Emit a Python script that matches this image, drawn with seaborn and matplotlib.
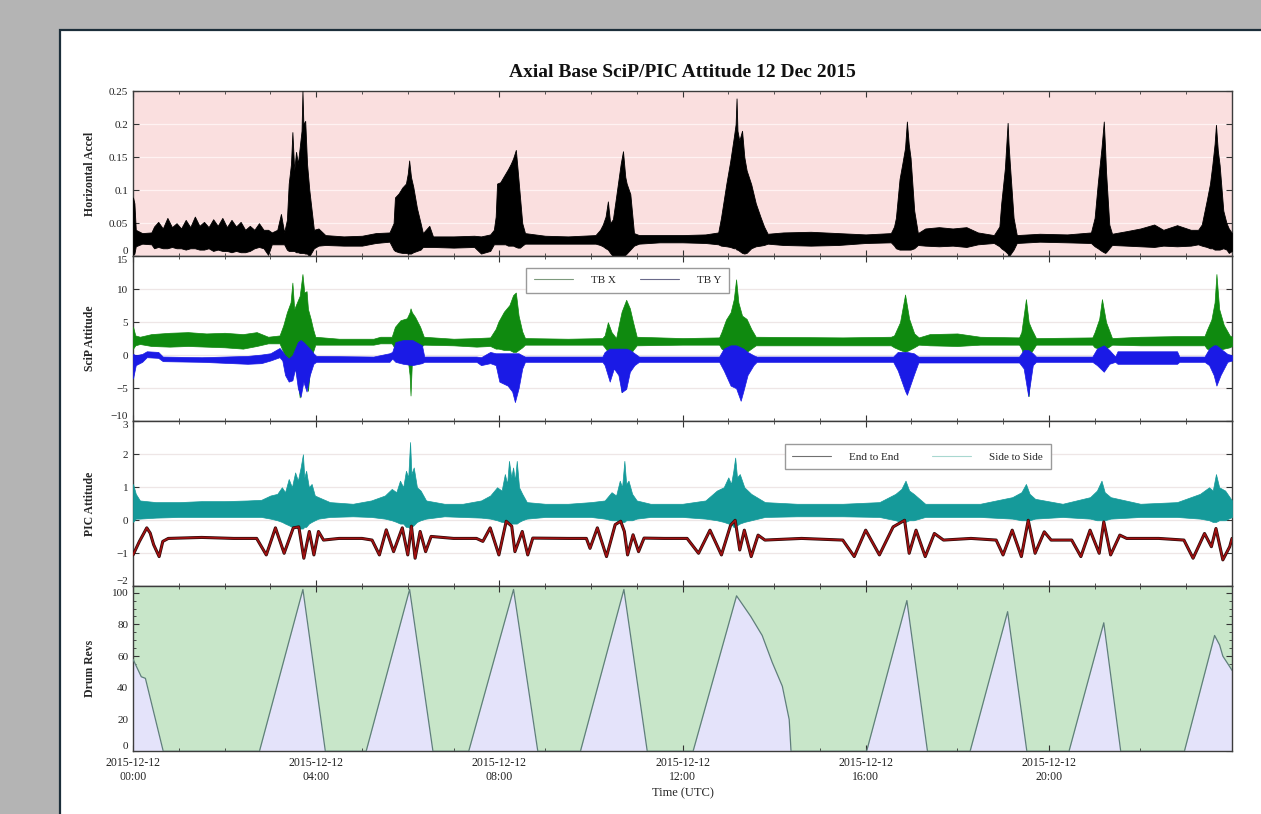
import matplotlib
matplotlib.use("Agg")
import matplotlib.pyplot as plt
import matplotlib.dates as mdates
from matplotlib.lines import Line2D
from matplotlib.patches import Rectangle
from matplotlib.ticker import AutoMinorLocator
import numpy as np
import pandas as pd
import seaborn as sns

DAY = pd.Timestamp("2015-12-12")

# ── Data (hours since 00:00 UTC) ─────────────────────────────────────────────

# Horizontal accel envelope: (hour, low, high)
accel_pts = [
    (0.00, 0.002, 0.089), (0.03, 0.004, 0.080), (0.06, 0.015, 0.040), (0.20, 0.019, 0.035),
    (0.40, 0.018, 0.036), (0.46, 0.012, 0.045), (0.55, 0.014, 0.052), (0.65, 0.012, 0.042),
    (0.75, 0.012, 0.058), (0.85, 0.014, 0.044), (0.95, 0.012, 0.050), (1.05, 0.012, 0.042),
    (1.15, 0.010, 0.055), (1.25, 0.012, 0.044), (1.35, 0.012, 0.060), (1.45, 0.010, 0.046),
    (1.55, 0.010, 0.052), (1.65, 0.012, 0.044), (1.75, 0.008, 0.056), (1.85, 0.010, 0.046),
    (1.95, 0.008, 0.058), (2.05, 0.008, 0.044), (2.15, 0.006, 0.055), (2.25, 0.008, 0.045),
    (2.35, 0.006, 0.052), (2.45, 0.006, 0.040), (2.55, 0.008, 0.046), (2.65, 0.012, 0.040),
    (2.75, 0.014, 0.050), (2.85, 0.012, 0.040), (2.95, 0.002, 0.040),
    (3.03, 0.018, 0.036), (3.15, 0.018, 0.040), (3.23, 0.018, 0.064), (3.30, 0.018, 0.036),
    (3.36, 0.010, 0.055), (3.40, 0.008, 0.110), (3.45, 0.008, 0.140), (3.48, 0.008, 0.188),
    (3.52, 0.008, 0.130), (3.56, 0.006, 0.158), (3.60, 0.006, 0.140), (3.64, 0.005, 0.165),
    (3.68, 0.005, 0.190), (3.70, 0.005, 0.250), (3.72, 0.005, 0.200), (3.76, 0.004, 0.205),
    (3.80, 0.004, 0.140), (3.85, 0.000, 0.100), (3.90, 0.006, 0.070), (3.95, 0.012, 0.040),
    (4.05, 0.016, 0.042), (4.20, 0.017, 0.032), (4.60, 0.016, 0.030), (5.00, 0.016, 0.031),
    (5.30, 0.020, 0.035), (5.60, 0.022, 0.036),
    (5.69, 0.010, 0.050), (5.72, 0.008, 0.089), (5.80, 0.006, 0.095), (5.88, 0.005, 0.104),
    (5.96, 0.005, 0.110), (6.00, 0.004, 0.125), (6.03, 0.004, 0.145), (6.07, 0.004, 0.120),
    (6.12, 0.006, 0.105), (6.20, 0.008, 0.073), (6.28, 0.010, 0.050), (6.33, 0.014, 0.035),
    (6.47, 0.014, 0.046), (6.55, 0.014, 0.030), (7.00, 0.013, 0.030), (7.45, 0.014, 0.031),
    (7.60, 0.004, 0.030), (7.80, 0.008, 0.033), (7.88, 0.018, 0.040),
    (7.92, 0.018, 0.060), (7.95, 0.018, 0.110), (8.02, 0.018, 0.112), (8.07, 0.018, 0.118),
    (8.13, 0.018, 0.125), (8.19, 0.016, 0.132), (8.25, 0.016, 0.140), (8.30, 0.016, 0.148),
    (8.36, 0.014, 0.161), (8.40, 0.013, 0.130), (8.45, 0.013, 0.090), (8.50, 0.016, 0.050),
    (8.56, 0.019, 0.035), (9.00, 0.019, 0.031), (9.50, 0.019, 0.030), (10.10, 0.019, 0.032),
    (10.20, 0.017, 0.040), (10.26, 0.015, 0.048), (10.32, 0.012, 0.060), (10.37, 0.010, 0.083),
    (10.42, 0.005, 0.050), (10.48, 0.000, 0.056), (10.55, 0.000, 0.090), (10.59, 0.000, 0.110),
    (10.65, 0.000, 0.140), (10.70, 0.000, 0.159), (10.75, 0.002, 0.120), (10.78, 0.004, 0.110),
    (10.86, 0.010, 0.094), (10.94, 0.016, 0.035), (11.05, 0.019, 0.032), (11.50, 0.021, 0.032),
    (12.00, 0.021, 0.032), (12.50, 0.020, 0.033), (12.78, 0.018, 0.036),
    (12.84, 0.016, 0.058), (12.96, 0.015, 0.111), (13.04, 0.014, 0.143), (13.12, 0.012, 0.180),
    (13.16, 0.012, 0.200), (13.18, 0.010, 0.239), (13.20, 0.010, 0.190), (13.24, 0.008, 0.175),
    (13.30, 0.005, 0.190), (13.35, 0.004, 0.150), (13.40, 0.005, 0.130), (13.50, 0.012, 0.109),
    (13.60, 0.015, 0.080), (13.70, 0.016, 0.060), (13.78, 0.017, 0.045), (13.86, 0.019, 0.034),
    (14.20, 0.017, 0.036), (14.80, 0.016, 0.037), (15.40, 0.017, 0.035), (16.00, 0.020, 0.033),
    (16.55, 0.021, 0.035),
    (16.62, 0.016, 0.045), (16.66, 0.012, 0.058), (16.74, 0.010, 0.117), (16.80, 0.010, 0.140),
    (16.86, 0.010, 0.164), (16.90, 0.010, 0.204), (16.94, 0.010, 0.170), (16.98, 0.010, 0.149),
    (17.06, 0.012, 0.069), (17.14, 0.017, 0.035), (17.30, 0.016, 0.042), (17.60, 0.015, 0.044),
    (17.90, 0.016, 0.042), (18.20, 0.014, 0.044), (18.45, 0.018, 0.036), (18.80, 0.020, 0.032),
    (18.92, 0.015, 0.045), (18.96, 0.012, 0.080), (19.04, 0.008, 0.133), (19.10, 0.004, 0.202),
    (19.12, 0.000, 0.170), (19.15, 0.002, 0.138), (19.23, 0.010, 0.058), (19.30, 0.020, 0.032),
    (19.80, 0.022, 0.034), (20.40, 0.021, 0.033), (20.92, 0.020, 0.036),
    (21.00, 0.015, 0.058), (21.07, 0.012, 0.111), (21.15, 0.008, 0.164), (21.20, 0.006, 0.204),
    (21.23, 0.005, 0.160), (21.25, 0.006, 0.127), (21.32, 0.012, 0.048), (21.38, 0.017, 0.034),
    (21.70, 0.016, 0.038), (22.00, 0.015, 0.042), (22.30, 0.014, 0.048), (22.50, 0.016, 0.040),
    (22.80, 0.015, 0.047), (23.10, 0.016, 0.040), (23.26, 0.018, 0.040),
    (23.34, 0.016, 0.048), (23.45, 0.014, 0.085), (23.52, 0.012, 0.110), (23.57, 0.012, 0.138),
    (23.62, 0.010, 0.170), (23.65, 0.010, 0.199), (23.69, 0.010, 0.160), (23.73, 0.010, 0.138),
    (23.81, 0.012, 0.069), (23.88, 0.010, 0.050), (23.93, 0.005, 0.042), (24.00, 0.008, 0.035),
]

# SciP tilt, TB X (green) envelope
tbx_pts = [
    (0.00, 1.0, 4.3), (0.05, 1.5, 3.0), (0.15, 1.7, 2.8), (0.40, 1.4, 3.2), (0.80, 1.3, 3.4),
    (1.20, 1.4, 3.5), (1.60, 1.3, 3.3), (2.00, 1.2, 3.4), (2.40, 1.0, 3.2), (2.70, 1.4, 3.5),
    (2.95, 1.8, 2.8), (3.20, 1.8, 3.0), (3.28, 0.5, 4.5), (3.36, -1.0, 6.5), (3.44, -1.5, 8.0),
    (3.48, -2.0, 11.0), (3.52, -1.5, 7.0), (3.58, -3.0, 8.0), (3.64, -6.4, 9.0), (3.70, -4.0, 12.3),
    (3.74, -3.0, 9.5), (3.79, -3.0, 9.7), (3.82, -5.4, 7.0), (3.88, -1.0, 5.5), (3.93, 0.5, 4.0),
    (3.98, 1.6, 2.8), (4.50, 1.6, 2.5), (5.25, 1.6, 2.5), (5.40, 1.8, 2.8), (5.65, 1.8, 2.8),
    (5.72, 1.0, 4.3), (5.84, 0.8, 5.3), (5.98, 0.5, 5.6), (6.04, -3.0, 6.5), (6.06, -6.1, 7.1),
    (6.09, -1.0, 6.5), (6.16, 0.8, 5.8), (6.27, 1.2, 4.3), (6.35, 1.6, 2.8), (7.00, 1.5, 2.5),
    (7.50, 1.3, 2.6), (7.80, 1.4, 2.7), (7.92, 1.0, 4.0), (7.98, 1.0, 5.1), (8.10, 0.8, 6.6),
    (8.22, 0.8, 7.6), (8.30, 0.5, 9.1), (8.36, 0.5, 9.5), (8.42, 0.8, 6.0), (8.50, 1.2, 3.6),
    (8.56, 1.6, 2.6), (9.50, 1.6, 2.5), (10.25, 1.6, 2.6), (10.30, 1.2, 3.0), (10.37, 0.5, 5.0),
    (10.45, 0.0, 3.5), (10.55, -1.0, 2.6), (10.62, -2.0, 5.0), (10.67, -5.6, 6.6), (10.72, -2.0, 7.5),
    (10.77, -1.0, 8.4), (10.85, 0.0, 7.1), (10.92, 0.8, 5.0), (11.00, 1.5, 2.8), (12.00, 1.6, 2.6),
    (12.80, 1.6, 2.7), (12.85, 1.0, 3.5), (12.95, 0.5, 5.4), (13.05, 0.0, 6.5), (13.12, -1.0, 8.5),
    (13.17, -2.0, 11.5), (13.22, -1.0, 8.0), (13.30, 0.0, 6.0), (13.40, 0.5, 5.5), (13.50, 1.0, 4.0),
    (13.60, 1.5, 2.8), (15.50, 1.5, 2.7), (16.55, 1.5, 2.8), (16.62, 1.2, 3.0), (16.75, 0.8, 5.0),
    (16.86, 0.5, 9.2), (16.95, 0.8, 5.5), (17.06, 1.2, 3.3), (17.16, 1.6, 2.7), (17.40, 1.5, 3.2),
    (18.00, 1.4, 3.3), (18.50, 1.6, 2.8), (19.35, 1.6, 2.7), (19.40, 1.0, 3.5), (19.50, -1.0, 8.5),
    (19.56, -6.2, 5.0), (19.62, 0.5, 4.0), (19.72, 1.6, 2.6), (20.95, 1.6, 2.7), (21.00, 1.2, 3.5),
    (21.10, 1.0, 5.5), (21.16, 0.8, 8.5), (21.25, 1.0, 5.0), (21.38, 1.6, 2.6), (22.00, 1.5, 2.8),
    (22.80, 1.5, 2.9), (23.40, 1.5, 2.9), (23.45, 1.0, 3.8), (23.55, 0.8, 5.4), (23.62, 0.5, 8.0),
    (23.66, 0.5, 12.3), (23.72, 0.8, 7.0), (23.82, 1.0, 4.6), (23.95, 1.2, 3.0), (24.00, 1.4, 2.8),
]

# SciP tilt, TB Y (blue) envelope
tby_pts = [
    (0.00, -3.5, 0.2), (0.06, -1.5, 0.0), (0.20, -1.0, 0.2), (0.30, -0.3, 0.6), (0.55, -0.4, 0.5),
    (0.65, -0.9, -0.2), (1.50, -1.0, -0.3), (2.50, -1.3, -0.1), (2.80, -1.2, 0.1), (3.00, -0.8, 0.3),
    (3.20, -0.3, 1.1), (3.26, -0.8, 0.6), (3.32, -3.0, 0.0), (3.40, -4.0, -0.5), (3.48, -3.8, 0.0),
    (3.54, -2.0, 1.0), (3.60, -5.0, 2.0), (3.66, -6.3, 2.3), (3.72, -4.0, 2.0), (3.79, -5.5, 1.5),
    (3.86, -3.0, 1.0), (3.94, -1.3, 0.3), (4.00, -1.0, -0.1), (5.25, -1.0, -0.2), (5.60, -1.0, 0.3),
    (5.66, -0.5, 0.5), (5.73, -1.0, 2.0), (5.90, -1.3, 2.3), (6.10, -1.5, 2.3), (6.31, -1.2, 1.5),
    (6.36, -1.0, -0.2), (7.50, -1.0, -0.2), (7.60, -1.5, -0.3), (7.80, -1.2, 0.5), (7.92, -1.5, 0.3),
    (8.00, -4.0, 0.3), (8.18, -4.6, 0.3), (8.28, -5.5, 0.3), (8.34, -7.1, 0.3), (8.42, -5.0, 0.3),
    (8.50, -2.0, 0.0), (8.56, -1.0, -0.2), (10.25, -1.0, -0.2), (10.30, -1.5, 0.5), (10.41, -4.0, 1.0),
    (10.50, -2.0, 1.0), (10.60, -3.0, 1.0), (10.67, -5.6, 1.0), (10.77, -5.1, 1.0), (10.85, -2.5, 0.8),
    (10.95, -1.5, 0.3), (11.05, -1.0, -0.2), (12.80, -1.0, -0.2), (12.90, -2.3, 1.0), (13.05, -4.6, 1.5),
    (13.17, -5.0, 1.5), (13.27, -6.9, 1.2), (13.33, -5.4, 1.0), (13.42, -3.0, 0.5), (13.55, -1.5, 0.0),
    (13.62, -1.0, -0.2), (16.60, -1.0, -0.2), (16.70, -2.3, 0.5), (16.86, -5.4, 0.5), (16.90, -6.0, 0.5),
    (17.05, -3.0, 0.3), (17.15, -1.1, -0.2), (19.35, -1.1, -0.2), (19.45, -2.0, 0.8), (19.55, -6.2, 0.8),
    (19.65, -1.5, 0.3), (19.72, -1.0, -0.2), (20.95, -1.0, -0.2), (21.05, -1.5, 1.0), (21.20, -2.5, 1.5),
    (21.32, -1.3, 0.8), (21.45, -1.0, -0.2), (21.50, -1.3, 0.6), (22.80, -1.3, 0.6), (22.85, -1.0, -0.2),
    (23.40, -1.0, -0.2), (23.50, -1.5, 1.0), (23.60, -3.0, 1.5), (23.66, -4.6, 1.5), (23.75, -3.0, 1.0),
    (23.90, -1.0, 0.2), (24.00, -0.8, 0.0),
]

# PIC side-to-side (teal) envelope
side_pts = [
    (0.00, -0.05, 1.1), (0.06, 0.05, 0.8), (0.15, 0.05, 0.6), (0.50, 0.08, 0.55), (1.00, 0.10, 0.55),
    (1.50, 0.10, 0.58), (2.00, 0.10, 0.58), (2.50, 0.10, 0.60), (2.80, 0.10, 0.62), (3.00, 0.05, 0.75),
    (3.15, 0.00, 0.80), (3.25, -0.05, 1.00), (3.32, -0.10, 0.85), (3.40, -0.15, 1.25), (3.47, -0.20, 1.00),
    (3.54, -0.20, 1.45), (3.60, -0.25, 1.20), (3.66, -0.25, 1.60), (3.71, -0.25, 2.00), (3.74, -0.20, 1.30),
    (3.78, -0.20, 1.50), (3.84, -0.10, 1.00), (3.90, -0.05, 1.10), (3.97, 0.00, 0.75), (4.05, 0.05, 0.70),
    (4.30, 0.10, 0.55), (4.80, 0.12, 0.50), (5.20, 0.10, 0.60), (5.50, 0.05, 0.75), (5.65, 0.00, 0.95),
    (5.75, -0.05, 0.85), (5.83, -0.10, 1.20), (5.90, -0.10, 1.00), (5.96, -0.20, 1.50), (6.01, -0.20, 1.30),
    (6.05, -0.25, 2.37), (6.08, -0.20, 1.40), (6.13, -0.15, 1.60), (6.20, -0.05, 1.00), (6.28, 0.00, 0.90),
    (6.40, 0.05, 0.60), (6.80, 0.12, 0.50), (7.20, 0.10, 0.50), (7.60, 0.08, 0.60), (7.80, 0.05, 0.75),
    (7.95, 0.00, 1.00), (8.05, -0.05, 0.90), (8.12, -0.05, 1.40), (8.17, -0.10, 1.10), (8.21, -0.10, 1.80),
    (8.26, -0.10, 1.30), (8.30, -0.10, 1.60), (8.34, -0.10, 1.20), (8.38, -0.10, 1.80), (8.43, -0.05, 1.00),
    (8.50, 0.00, 0.80), (8.60, 0.05, 0.55), (9.00, 0.10, 0.50), (9.50, 0.10, 0.50), (10.00, 0.10, 0.55),
    (10.30, 0.05, 0.60), (10.45, 0.00, 0.85), (10.55, 0.00, 0.75), (10.63, -0.05, 1.20), (10.68, -0.05, 1.00),
    (10.73, -0.05, 1.80), (10.77, 0.00, 1.10), (10.82, 0.00, 1.20), (10.90, 0.00, 0.80), (11.00, 0.05, 0.60),
    (11.30, 0.10, 0.50), (12.00, 0.10, 0.50), (12.50, 0.05, 0.60), (12.75, 0.00, 0.90), (12.90, -0.05, 1.00),
    (13.00, -0.10, 1.30), (13.06, -0.10, 1.10), (13.11, -0.20, 1.50), (13.15, -0.20, 1.90), (13.19, -0.15, 1.30),
    (13.25, -0.10, 1.40), (13.35, -0.05, 1.00), (13.50, 0.00, 0.80), (13.80, 0.10, 0.55), (14.50, 0.12, 0.50),
    (15.50, 0.12, 0.50), (16.30, 0.10, 0.55), (16.65, 0.00, 0.80), (16.78, -0.05, 0.95), (16.87, -0.05, 1.20),
    (16.95, 0.00, 0.90), (17.05, 0.00, 0.80), (17.30, 0.10, 0.50), (18.50, 0.10, 0.50), (19.20, 0.05, 0.70),
    (19.40, 0.00, 0.85), (19.50, 0.00, 1.10), (19.58, 0.00, 0.80), (19.70, 0.05, 0.65), (20.30, 0.10, 0.50),
    (20.90, 0.05, 0.70), (21.05, 0.00, 0.90), (21.15, 0.00, 1.20), (21.22, 0.00, 0.85), (21.35, 0.05, 0.70),
    (22.00, 0.10, 0.50), (22.80, 0.10, 0.55), (23.30, 0.05, 0.80), (23.50, 0.00, 1.00), (23.58, -0.05, 0.90),
    (23.65, -0.05, 1.40), (23.72, 0.00, 1.00), (23.85, 0.00, 0.90), (24.00, 0.10, 0.60),
]

# PIC end-to-end (dark red) trace: hours and values
end_hours = [
    0.00, 0.14, 0.30, 0.375, 0.45, 0.57, 0.65, 0.77, 1.50, 2.20, 2.70, 2.91, 3.11, 3.30, 3.50, 3.62,
    3.73, 3.85, 3.95, 4.05, 4.16, 4.50, 5.00, 5.22, 5.38, 5.53, 5.69, 5.88, 6.00, 6.08, 6.16, 6.27,
    6.39, 6.51, 7.00, 7.50, 7.64, 7.80, 7.99, 8.15, 8.27, 8.34, 8.50, 8.62, 8.73, 9.50, 9.90, 9.98,
    10.14, 10.34, 10.53, 10.65, 10.73, 10.80, 10.92, 11.04, 11.16, 11.60, 12.10, 12.35, 12.60, 12.85,
    13.05, 13.15, 13.25, 13.35, 13.50, 13.65, 13.80, 14.60, 15.50, 15.75, 16.00, 16.30, 16.60, 16.85,
    16.95, 17.10, 17.30, 17.50, 17.70, 18.30, 18.85, 19.00, 19.20, 19.40, 19.55, 19.70, 19.90, 20.05,
    20.50, 20.70, 20.90, 21.10, 21.20, 21.35, 21.55, 21.70, 22.40, 22.95, 23.15, 23.40, 23.55, 23.65,
    23.80, 23.95, 24.00,
]
end_values = [
    -1.05, -0.64, -0.23, -0.39, -0.74, -1.10, -0.64, -0.55, -0.52, -0.55, -0.55, -1.05, -0.23, -1.00,
    -0.23, -0.20, -1.15, -0.34, -1.05, -0.34, -0.60, -0.55, -0.55, -0.60, -1.05, -0.29, -0.95, -0.23,
    -1.05, -0.18, -1.15, -0.34, -0.95, -0.49, -0.55, -0.55, -0.64, -0.23, -1.05, -0.03, -0.18, -0.95,
    -0.34, -1.05, -0.54, -0.55, -0.55, -0.85, -0.23, -1.10, -0.13, -0.03, -0.34, -1.05, -0.44, -0.95,
    -0.54, -0.55, -0.55, -1.00, -0.30, -1.05, -0.15, 0.00, -0.90, -0.30, -1.10, -0.45, -0.60, -0.55,
    -0.60, -1.10, -0.30, -1.05, -0.20, 0.00, -1.00, -0.30, -1.10, -0.40, -0.60, -0.55, -0.60, -1.05,
    -0.30, -1.10, 0.00, -1.00, -0.35, -0.60, -0.60, -1.10, -0.30, -1.00, -0.05, -1.05, -0.45, -0.55,
    -0.55, -0.60, -1.15, -0.40, -0.80, -0.25, -1.20, -0.80, -0.55,
]

# Drum revolutions
drum_hours = [
    0.00, 0.18, 0.27, 0.66, 2.76, 3.71, 4.20, 5.09, 6.04, 6.55, 7.33, 8.31, 8.84, 9.77, 10.72, 11.23,
    12.23, 13.18, 13.49, 13.74, 13.96, 14.18, 14.33, 14.37, 16.02, 16.90, 17.35, 18.28, 19.10, 19.52,
    20.44, 21.20, 21.57, 22.96, 23.62, 23.73, 23.80, 23.98, 24.00,
]
drum_revs = [
    58, 47, 46, 0, 0, 102, 0, 0, 102, 0, 0, 102, 0, 0, 102, 0,
    0, 98, 85, 73, 56, 41, 20, 0, 0, 95, 0, 0, 88, 0,
    0, 81, 0, 0, 73, 67, 60, 52, 51,
]

tick_hours = [0, 4, 8, 12, 16, 20]


def to_time(hours):
    return (DAY + pd.to_timedelta(np.asarray(hours, dtype=float), unit="h")).to_numpy()


def band(points):
    h, lo, hi = zip(*points)
    return to_time(h), np.array(lo), np.array(hi)


# ── Style ─────────────────────────────────────────────────────────────────────

sns.set_theme(style="ticks")
plt.rcParams["font.family"] = ["Liberation Serif", "DejaVu Serif"]
plt.rcParams["axes.edgecolor"] = "#3c3c3c"
plt.rcParams["axes.linewidth"] = 1.0

fig, axes = plt.subplots(4, 1, figsize=(12.61, 8.14), dpi=100, sharex=True)
fig.patch.set_facecolor("#b4b4b4")
fig.subplots_adjust(left=0.1055, right=0.977, top=0.888, bottom=0.077, hspace=0)
fig.patches.append(Rectangle((60 / 1261, -0.01), 1.0, 1 - 30 / 814 + 0.01,
                             transform=fig.transFigure, facecolor="white",
                             edgecolor="#1c2e3a", linewidth=1.6, zorder=-5))

ax1, ax2, ax3, ax4 = axes

# Panel 1 — horizontal acceleration
t, lo, hi = band(accel_pts)
ax1.set_facecolor("#fadfdf")
ax1.fill_between(t, lo, hi, color="black", edgecolor="black", linewidth=0.6, zorder=3)
ax1.set_ylim(0, 0.25)
ax1.set_yticks([0, 0.05, 0.1, 0.15, 0.2, 0.25], ["0", "0.05", "0.1", "0.15", "0.2", "0.25"])
ax1.yaxis.grid(True, color="#fff2f2", linewidth=0.9)
ax1.set_ylabel("Horizontal Accel")

# Panel 2 — SciP attitude
t, lo, hi = band(tbx_pts)
ax2.fill_between(t, lo, hi, color="#0f8a0f", edgecolor="#0f8a0f", linewidth=0.5, zorder=3)
t, lo, hi = band(tby_pts)
ax2.fill_between(t, lo, hi, color="#1a1ae6", edgecolor="#1a1ae6", linewidth=0.5, zorder=4)
ax2.set_ylim(-10, 15)
ax2.set_yticks([-10, -5, 0, 5, 10, 15])
ax2.yaxis.grid(True, color="#eee6e6", linewidth=0.9)
ax2.set_ylabel("SciP Attitude")
ax2.legend(handles=[Line2D([], [], color="#7d9a7d", lw=0.8),
                    Line2D([], [], color="#6a6a8a", lw=0.8)],
           labels=["TB X", "TB Y"], loc="upper center", bbox_to_anchor=(0.45, 0.965),
           ncol=2, fontsize=8, frameon=True, fancybox=False, edgecolor="#9a9a9a",
           framealpha=1, handlelength=3.5, handletextpad=1.6, columnspacing=2.2,
           borderpad=0.7)

# Panel 3 — PIC attitude
t, lo, hi = band(side_pts)
ax3.fill_between(t, lo, hi, color="#159a9a", edgecolor="#159a9a", linewidth=0.5, zorder=3)
sns.lineplot(x=to_time(end_hours), y=end_values, ax=ax3, color="#2a0a0a",
             linewidth=2.2, estimator=None, sort=False, zorder=4)
sns.lineplot(x=to_time(end_hours), y=end_values, ax=ax3, color="#a01010",
             linewidth=1.2, estimator=None, sort=False, zorder=5)
ax3.set_ylim(-2, 3)
ax3.set_yticks([-2, -1, 0, 1, 2, 3])
ax3.yaxis.grid(True, color="#eee6e6", linewidth=0.9)
ax3.set_ylabel("PIC Attitude")
ax3.legend(handles=[Line2D([], [], color="#707070", lw=0.8),
                    Line2D([], [], color="#a8d8d0", lw=0.8)],
           labels=["End to End", "Side to Side"], loc="upper right",
           bbox_to_anchor=(0.84, 0.895), ncol=2, fontsize=8, frameon=True,
           fancybox=False, edgecolor="#9a9a9a", framealpha=1, handlelength=3.5,
           handletextpad=1.6, columnspacing=3.0, borderpad=0.7)

# Panel 4 — drum revs
td = to_time(drum_hours)
ax4.set_facecolor("#c8e6c9")
ax4.fill_between(td, 0, drum_revs, color="#e4e3fa", linewidth=0, zorder=2)
sns.lineplot(x=td, y=drum_revs, ax=ax4, color="#5f7f7a", linewidth=0.9,
             estimator=None, sort=False, zorder=3)
ax4.set_ylim(0, 104)
ax4.set_yticks([0, 20, 40, 60, 80, 100])
ax4.yaxis.set_minor_locator(AutoMinorLocator(4))
ax4.set_ylabel("Drum Revs")

for ax in axes:
    ax.set_axisbelow(True)
    ax.set_xlim(to_time([0])[0], to_time([24])[0])
    ax.yaxis.label.set_fontweight("bold")
    ax.yaxis.label.set_fontsize(8.5)
    ax.yaxis.set_label_coords(-0.034, 0.5)
    ax.tick_params(axis="both", which="both", direction="in", top=True, right=True,
                   labelsize=8, colors="#333333", labelcolor="#222222")
    ax.tick_params(which="major", length=4, width=0.8)
    ax.tick_params(which="minor", length=2, width=0.6)
    ax.xaxis.set_minor_locator(mdates.HourLocator(interval=1))
    for s in ax.spines.values():
        s.set_color("#3c3c3c")

# keep edge labels of stacked panels from sitting on top of each other
for ax in (ax1, ax2, ax3, ax4):
    ax.yaxis.get_major_ticks()[0].label1.set_verticalalignment("bottom")
for ax in (ax2, ax3):
    ax.yaxis.get_major_ticks()[-1].label1.set_verticalalignment("top")

ax4.set_xticks(to_time(tick_hours))
ax4.xaxis.set_major_formatter(mdates.DateFormatter("%Y-%m-%d\n%H:%M"))
ax4.tick_params(axis="x", labelsize=8.5, pad=4)
for lab in ax4.get_xticklabels():
    lab.set_horizontalalignment("center")
ax4.set_xlabel("Time (UTC)", fontsize=9, labelpad=3)

fig.text(0.5413, 0.9115, "Axial Base SciP/PIC Attitude 12 Dec 2015", ha="center",
         va="center", fontsize=14, fontweight="bold", color="#111111")

fig.savefig("out.png", dpi=100, facecolor=fig.get_facecolor())
